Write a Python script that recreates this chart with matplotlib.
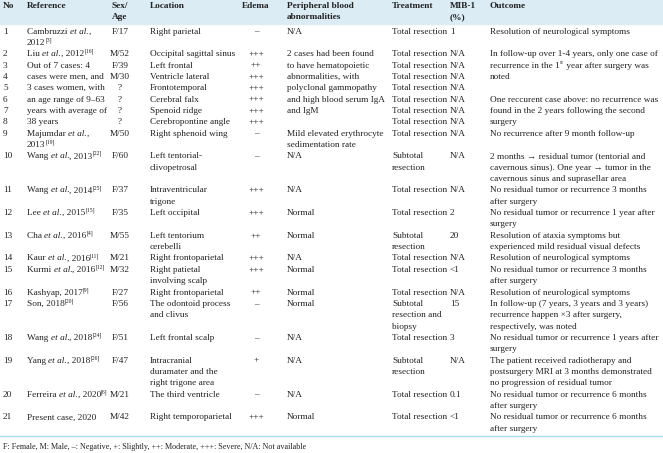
import re

import matplotlib
matplotlib.use("Agg")
import matplotlib.pyplot as plt

plt.rcParams["font.family"] = ["Liberation Serif", "DejaVu Serif"]

# simple markup: *italic*, ^[sup] / ^sup for superscripts
headers = ["No", "Reference", "Sex/\nAge", "Location", "Edema",
           "Peripheral blood\nabnormalities", "Treatment", "MIB-1\n(%)", "Outcome"]

numbers = [str(i) for i in range(1, 22)]

references = [
    "Cambruzzi *et al.*,\n2012^[3]",
    "Liu *et al.*, 2012^[16]",
    "Out of 7 cases: 4",
    "cases were men, and",
    "3 cases women, with",
    "an age range of 9–63",
    "years with average of",
    "38 years",
    "Majumdar *et al.*,\n2013^[19]",
    "Wang *et al.*, 2013^[22]",
    "Wang *et al.*, 2014^[25]",
    "Lee *et al.*, 2015^[15]",
    "Cha *et al.*, 2016^[4]",
    "Kaur *et al.*, 2016^[11]",
    "Kurmi *et al.*, 2016^[12]",
    "Kashyap, 2017^[9]",
    "Son, 2018^[20]",
    "Wang *et al.*, 2018^[24]",
    "Yang *et al.*, 2018^[26]",
    "Ferreira *et al.*, 2020^[6]",
    "Present case, 2020",
]

sex_age = ["F/17", "M/52", "F/39", "M/30", "?", "?", "?", "?", "M/50", "F/60",
           "F/37", "F/35", "M/55", "M/21", "M/32", "F/27", "F/56", "F/51",
           "F/47", "M/21", "M/42"]

locations = [
    "Right parietal", "Occipital sagittal sinus", "Left frontal",
    "Ventricle lateral", "Frontotemporal", "Cerebral falx", "Spenoid ridge",
    "Cerebropontine angle", "Right sphenoid wing",
    "Left tentorial-\nclivopetrosal", "Intraventricular\ntrigone",
    "Left occipital", "Left tentorium\ncerebelli", "Right frontoparietal",
    "Right patietal\ninvolving scalp", "Right frontoparietal",
    "The odontoid process\nand clivus", "Left frontal scalp",
    "Intracranial\nduramater and the\nright trigone area",
    "The third ventricle", "Right temporoparietal",
]

edema = ["–", "+++", "++", "+++", "+++", "+++", "+++", "+++", "–", "–",
         "+++", "+++", "++", "+++", "+++", "++", "–", "–", "+", "–", "+++"]

peripheral = [
    "N/A", "2 cases had been found", "to have hematopoietic",
    "abnormalities, with", "polyclonal gammopathy",
    "and high blood serum IgA", "and IgM", "",
    "Mild elevated erythrocyte\nsedimentation rate",
    "N/A", "N/A", "Normal", "Normal", "N/A", "Normal", "Normal", "Normal",
    "N/A", "N/A", "N/A", "Normal",
]

treatment = (["Total resection"] * 9
             + ["Subtotal\nresection", "Total resection", "Total resection",
                "Subtotal\nresection", "Total resection", "Total resection",
                "Total resection", "Subtotal\nresection and\nbiopsy",
                "Total resection", "Subtotal\nresection", "Total resection",
                "Total resection"])

mib1 = ["1", "N/A", "N/A", "N/A", "N/A", "N/A", "N/A", "N/A", "N/A", "N/A",
        "N/A", "2", "20", "N/A", "<1", "N/A", "15", "3", "N/A", "0.1", "<1"]

outcomes = [
    "Resolution of neurological symptoms",
    "In follow-up over 1-4 years, only one case of",
    "recurrence in the 1^st year after surgery was",
    "noted",
    "",
    "One reccurent case above: no recurrence was",
    "found in the 2 years following the second",
    "surgery",
    "No recurrence after 9 month follow-up",
    "2 months → residual tumor (tentorial and\ncavernous sinus). One year → tumor in the\n"
    "cavernous sinus and suprasellar area",
    "No residual tumor or recurrence 3 months\nafter surgery",
    "No residual tumor or recurrence 1 year after\nsurgery",
    "Resolution of ataxia symptoms but\nexperienced mild residual visual defects",
    "Resolution of neurological symptoms",
    "No residual tumor or recurrence 3 months\nafter surgery",
    "Resolution of neurological symptoms",
    "In follow-up (7 years, 3 years and 3 years)\nrecurrence happen ×3 after surgery,\n"
    "respectively, was noted",
    "No residual tumor or recurrence 1 years after\nsurgery",
    "The patient received radiotherapy and\npostsurgery MRI at 3 months demonstrated\n"
    "no progression of residual tumor",
    "No residual tumor or recurrence 6 months\nafter surgery",
    "No residual tumor or recurrence 6 months\nafter surgery",
]

footnote = ("F: Female, M: Male, –: Negative, +: Slightly, ++: Moderate, "
            "+++: Severe, N/A: Not available")

columns = [numbers, references, sex_age, locations, edema, peripheral,
           treatment, mib1, outcomes]
col_x = [3, 27, 120, 150, 256, 287, 392, 450, 490]
col_ha = ["left", "left", "center", "left", "center", "left", "left", "left", "left"]

W, H = 663, 453
LINE = 11.35
FS = 6.7
INK = "#222222"

fig = plt.figure(figsize=(W / 100, H / 100), dpi=100)
ax = fig.add_axes([0, 0, 1, 1])
ax.set_xlim(0, W)
ax.set_ylim(H, 0)
ax.axis("off")
renderer = fig.canvas.get_renderer()


def text_width(s, **kw):
    t = ax.text(0, 0, "x" + s + "x", fontsize=kw.get("fontsize", FS),
                fontstyle=kw.get("fontstyle", "normal"))
    w = t.get_window_extent(renderer).width
    t.remove()
    t = ax.text(0, 0, "xx", fontsize=kw.get("fontsize", FS),
                fontstyle=kw.get("fontstyle", "normal"))
    w -= t.get_window_extent(renderer).width
    t.remove()
    return w


def rich(x, y, s, ha="left"):
    if ha != "left" or ("*" not in s and "^" not in s):
        ax.text(x, y, s, ha=ha, va="center", fontsize=FS, color=INK)
        return
    for tok in re.split(r"(\*[^*]+\*|\^\[[^\]]*\]|\^\w+)", s):
        if not tok:
            continue
        kw = {"fontsize": FS}
        dy = 0
        if tok.startswith("*"):
            tok = tok[1:-1]
            kw["fontstyle"] = "italic"
        elif tok.startswith("^"):
            tok = tok[1:]
            kw["fontsize"] = FS * 0.6
            dy = -2.6
        ax.text(x, y + dy, tok, ha="left", va="center", color=INK, **kw)
        x += text_width(tok, **kw)


# header band
ax.axhspan(0, 23.5, color="#dbecf4", zorder=0)
for x, ha, h in zip(col_x, col_ha, headers):
    for i, part in enumerate(h.split("\n")):
        ax.text(x, 6 + i * LINE, part, ha=ha, va="center", fontsize=FS,
                fontweight="bold", color=INK)

y = 31.5
for r in range(len(numbers)):
    n_lines = 1
    for x, ha, col in zip(col_x, col_ha, columns):
        parts = col[r].split("\n")
        n_lines = max(n_lines, len(parts))
        for i, part in enumerate(parts):
            if part:
                rich(x, y + i * LINE, part, ha)
    y += n_lines * LINE

ax.axhline(y - 4.5, color="#a6dcec", lw=1.0)
ax.text(3, y + 7, footnote, ha="left", va="center", fontsize=5.9, color=INK)

fig.savefig("out.png", dpi=100)
